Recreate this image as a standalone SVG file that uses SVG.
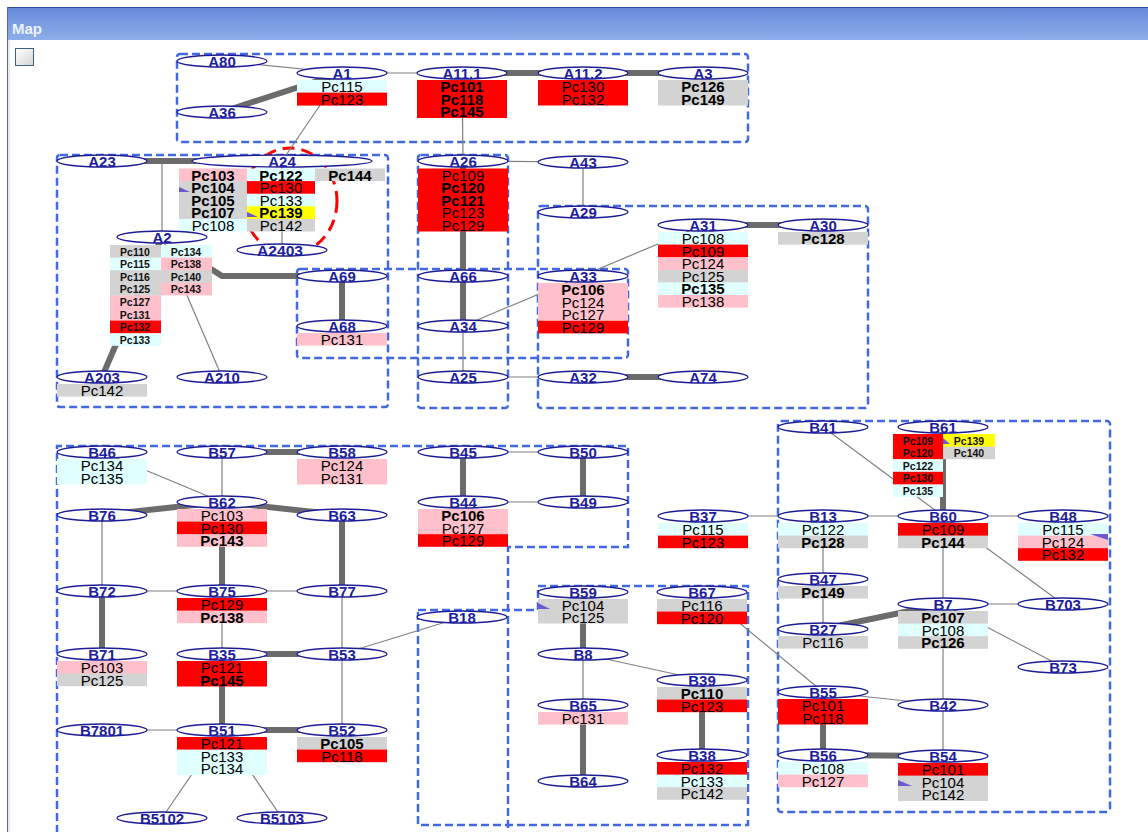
<svg xmlns="http://www.w3.org/2000/svg" width="1148" height="832" viewBox="0 0 1148 832">
<defs>
<linearGradient id="tb" x1="0" y1="0" x2="0" y2="1"><stop offset="0" stop-color="#6489d8"/><stop offset="1" stop-color="#8eaeea"/></linearGradient>
<linearGradient id="cb" x1="0" y1="0" x2="1" y2="1"><stop offset="0" stop-color="#ffffff"/><stop offset="1" stop-color="#d4d4d4"/></linearGradient>
</defs>
<style>
.n ellipse{fill:#fff;stroke:#1c1c96;stroke-width:1.3}
.l{font-family:"Liberation Sans",Arial,sans-serif;font-weight:bold;font-size:15px;fill:#1c1c9e;text-anchor:middle}
.p{font-family:"Liberation Sans",Arial,sans-serif;font-size:15px;fill:#000;text-anchor:middle}
.b{font-weight:bold}
.s{font-family:"Liberation Sans",Arial,sans-serif;font-size:10.5px;font-weight:bold;fill:#111;text-anchor:middle}
.red{fill:#ff0000}.pk{fill:#ffc0cb}.lc{fill:#e0ffff}.gr{fill:#d3d3d3}.ye{fill:#ffff00}
.mk{fill:#6a5acd}
.e{stroke:#808080;stroke-width:1.2;fill:none}
.t{stroke:#6b6b6b;stroke-width:6;fill:none}
.g{fill:none;stroke:#4169e1;stroke-width:2.5;stroke-dasharray:8 4}
</style>
<rect x="0" y="0" width="1148" height="832" fill="#fff"/>
<g id="window">
<rect x="7" y="7" width="1141" height="33" fill="url(#tb)"/>
<line x1="7" y1="7.5" x2="1148" y2="7.5" stroke="#2a4a9a"/>
<line x1="7.5" y1="7" x2="7.5" y2="832" stroke="#6a6a6a"/>
<line x1="9" y1="40" x2="9" y2="832" stroke="#c8d4ec"/>
<text x="12" y="34" font-family="Liberation Sans, Arial, sans-serif" font-weight="bold" font-size="15" fill="#eef2fc">Map</text>
<rect x="15.5" y="48.5" width="18" height="17" fill="url(#cb)" stroke="#3b6080"/>
</g>
<g id="groups">
<rect class="g" x="177" y="54" width="571" height="88" rx="3"/>
<rect class="g" x="57" y="155" width="331" height="252" rx="3"/>
<rect class="g" x="418" y="155" width="90" height="253" rx="3"/>
<rect class="g" x="538" y="206" width="330" height="202" rx="3"/>
<rect class="g" x="297" y="269" width="331" height="89" rx="3"/>
<path class="g" d="M508,840 V547 H628 V446 H57 V840"/>
<path class="g" d="M418,610 H538 V586 H748 V825 H418 Z"/>
<rect class="g" x="778" y="421" width="332" height="391" rx="3"/>
<ellipse cx="290" cy="201" rx="47" ry="53" fill="none" stroke="#ff0000" stroke-width="3" stroke-dasharray="12 7"/>
</g>
<g id="connectors">
<line class="e" x1="222" y1="61" x2="342" y2="73"/>
<line class="e" x1="342" y1="73" x2="462" y2="73"/>
<line class="e" x1="342" y1="73" x2="282" y2="161"/>
<line class="e" x1="462" y1="73" x2="463" y2="161"/>
<line class="e" x1="162" y1="161" x2="162" y2="237"/>
<line class="e" x1="282" y1="161" x2="282" y2="250"/>
<line class="e" x1="162" y1="237" x2="222" y2="377"/>
<line class="e" x1="463" y1="326" x2="463" y2="377"/>
<line class="e" x1="463" y1="161" x2="583" y2="162"/>
<line class="e" x1="583" y1="162" x2="583" y2="212"/>
<line class="e" x1="703" y1="225" x2="463" y2="326"/>
<line class="e" x1="463" y1="377" x2="583" y2="377"/>
<line class="t" x1="222" y1="112" x2="342" y2="73"/>
<line class="t" x1="462" y1="73" x2="583" y2="73"/>
<line class="t" x1="583" y1="73" x2="703" y2="73"/>
<line class="t" x1="102" y1="161" x2="282" y2="161"/>
<path class="t" d="M200,262 L222,276 L342,276"/>
<line class="t" x1="162" y1="237" x2="102" y2="377"/>
<line class="t" x1="342" y1="276" x2="342" y2="326"/>
<line class="t" x1="463" y1="161" x2="463" y2="276"/>
<line class="t" x1="463" y1="276" x2="463" y2="326"/>
<line class="t" x1="703" y1="225" x2="823" y2="225"/>
<line class="t" x1="583" y1="377" x2="703" y2="377"/>
<line class="e" x1="102" y1="452" x2="222" y2="502"/>
<line class="e" x1="222" y1="452" x2="222" y2="502"/>
<line class="e" x1="102" y1="515" x2="102" y2="591"/>
<line class="e" x1="102" y1="591" x2="222" y2="591"/>
<line class="e" x1="222" y1="591" x2="342" y2="591"/>
<line class="e" x1="222" y1="591" x2="222" y2="654"/>
<line class="e" x1="342" y1="591" x2="342" y2="654"/>
<line class="e" x1="342" y1="654" x2="342" y2="730"/>
<line class="e" x1="102" y1="730" x2="222" y2="730"/>
<line class="e" x1="222" y1="730" x2="162" y2="818"/>
<line class="e" x1="222" y1="730" x2="282" y2="818"/>
<line class="e" x1="342" y1="654" x2="462" y2="617"/>
<line class="e" x1="463" y1="452" x2="583" y2="452"/>
<line class="e" x1="463" y1="502" x2="583" y2="502"/>
<line class="e" x1="583" y1="654" x2="583" y2="705"/>
<line class="e" x1="583" y1="654" x2="702" y2="680"/>
<line class="e" x1="702" y1="592" x2="823" y2="692"/>
<line class="e" x1="823" y1="692" x2="943" y2="705"/>
<line class="e" x1="943" y1="705" x2="943" y2="756"/>
<line class="e" x1="943" y1="604" x2="943" y2="705"/>
<line class="e" x1="943" y1="604" x2="1063" y2="604"/>
<line class="e" x1="943" y1="604" x2="1063" y2="667"/>
<line class="e" x1="823" y1="579" x2="823" y2="629"/>
<line class="e" x1="823" y1="516" x2="823" y2="579"/>
<line class="e" x1="703" y1="516" x2="823" y2="516"/>
<line class="e" x1="823" y1="516" x2="943" y2="516"/>
<line class="e" x1="943" y1="516" x2="1063" y2="516"/>
<line class="e" x1="943" y1="516" x2="943" y2="604"/>
<line class="e" x1="943" y1="516" x2="1063" y2="604"/>
<line class="e" x1="823" y1="427" x2="943" y2="516"/>
<line class="t" x1="222" y1="452" x2="342" y2="452"/>
<line class="t" x1="222" y1="502" x2="102" y2="515"/>
<line class="t" x1="222" y1="502" x2="342" y2="515"/>
<line class="t" x1="222" y1="502" x2="222" y2="591"/>
<line class="t" x1="342" y1="515" x2="342" y2="591"/>
<line class="t" x1="102" y1="591" x2="102" y2="654"/>
<line class="t" x1="222" y1="654" x2="342" y2="654"/>
<line class="t" x1="222" y1="654" x2="222" y2="730"/>
<line class="t" x1="222" y1="730" x2="342" y2="730"/>
<line class="t" x1="463" y1="452" x2="463" y2="502"/>
<line class="t" x1="583" y1="452" x2="583" y2="502"/>
<line class="t" x1="583" y1="592" x2="583" y2="654"/>
<line class="t" x1="583" y1="705" x2="583" y2="781"/>
<line class="t" x1="702" y1="680" x2="702" y2="755"/>
<line class="t" x1="823" y1="629" x2="943" y2="604"/>
<line class="t" x1="823" y1="692" x2="823" y2="755"/>
<line class="t" x1="823" y1="755" x2="943" y2="756"/>
<line class="t" x1="943" y1="427" x2="943" y2="516"/>
</g>
<g id="A80" class="n"><ellipse cx="222" cy="61" rx="45" ry="6"/><text class="l" x="222" y="67">A80</text></g>
<g id="A36" class="n"><ellipse cx="222" cy="112" rx="45" ry="6"/><text class="l" x="222" y="118">A36</text></g>
<g id="A1" class="n"><ellipse cx="342" cy="73" rx="45" ry="6"/>
<rect class="lc" x="297" y="80" width="90" height="13"/><rect class="red" x="297" y="92.6" width="90" height="13"/>
<text class="p" x="342" y="92">Pc115</text><text class="p" x="342" y="104.6">Pc123</text>
<text class="l" x="342" y="79">A1</text></g>
<g id="A11.1" class="n"><ellipse cx="462" cy="73" rx="45" ry="6"/>
<rect class="red" x="417" y="80" width="90" height="38"/>
<text class="p b" x="462" y="92">Pc101</text><text class="p b" x="462" y="104.6">Pc118</text><text class="p b" x="462" y="117.2">Pc145</text>
<text class="l" x="462" y="79">A11.1</text></g>
<g id="A11.2" class="n"><ellipse cx="583" cy="73" rx="45" ry="6"/>
<rect class="red" x="538" y="80" width="90" height="25.5"/>
<text class="p" x="583" y="92">Pc130</text><text class="p" x="583" y="104.6">Pc132</text>
<text class="l" x="583" y="79">A11.2</text></g>
<g id="A3" class="n"><ellipse cx="703" cy="73" rx="45" ry="6"/>
<rect class="gr" x="658" y="80" width="90" height="25.5"/>
<text class="p b" x="703" y="92">Pc126</text><text class="p b" x="703" y="104.6">Pc149</text>
<text class="l" x="703" y="79">A3</text></g>
<g id="A23" class="n"><ellipse cx="102" cy="161" rx="45" ry="6"/><text class="l" x="102" y="167">A23</text></g>
<g id="A24" class="n"><ellipse cx="282" cy="161" rx="90" ry="6"/>
<rect class="pk" x="179" y="168.5" width="68" height="13"/><rect class="gr" x="179" y="181.1" width="68" height="38"/><rect class="lc" x="179" y="218.9" width="68" height="12.6"/>
<rect class="lc" x="247" y="168.5" width="68" height="13"/><rect class="red" x="247" y="181.1" width="68" height="13"/><rect class="lc" x="247" y="193.7" width="68" height="13"/><rect class="ye" x="247" y="206.3" width="68" height="13"/><rect class="gr" x="247" y="218.9" width="68" height="12.6"/>
<rect class="gr" x="315" y="168.5" width="70" height="12.6"/>
<text class="p b" x="213" y="180.5">Pc103</text><text class="p b" x="213" y="193.1">Pc104</text><text class="p b" x="213" y="205.7">Pc105</text><text class="p b" x="213" y="218.3">Pc107</text><text class="p" x="213" y="230.9">Pc108</text>
<text class="p b" x="281" y="180.5">Pc122</text><text class="p" x="281" y="193.1">Pc130</text><text class="p" x="281" y="205.7">Pc133</text><text class="p b" x="281" y="218.3">Pc139</text><text class="p" x="281" y="230.9">Pc142</text>
<text class="p b" x="350" y="180.5">Pc144</text>
<polygon class="mk" points="179,187 190,192 179,192"/><polygon class="mk" points="247,212 258,217 247,217"/>
<text class="l" x="282" y="167">A24</text></g>
<g id="A2403" class="n"><ellipse cx="282" cy="250" rx="45" ry="6"/><text class="l" x="280" y="256" textLength="46" lengthAdjust="spacingAndGlyphs">A2403</text></g>
<g id="A2" class="n"><ellipse cx="162" cy="237" rx="45" ry="6"/>
<rect class="gr" x="110" y="245" width="51" height="13"/><rect class="lc" x="110" y="257.6" width="51" height="13"/><rect class="gr" x="110" y="270.2" width="51" height="25.5"/><rect class="pk" x="110" y="295.4" width="51" height="25.5"/><rect class="red" x="110" y="320.6" width="51" height="13"/><rect class="lc" x="110" y="333.2" width="51" height="12.6"/>
<rect class="lc" x="161" y="245" width="51" height="13"/><rect class="pk" x="161" y="257.6" width="51" height="13"/><rect class="gr" x="161" y="270.2" width="51" height="13"/><rect class="pk" x="161" y="282.8" width="51" height="12.6"/>
<text class="s" x="135" y="255.5">Pc110</text><text class="s" x="135" y="268.1">Pc115</text><text class="s" x="135" y="280.7">Pc116</text><text class="s" x="135" y="293.3">Pc125</text><text class="s" x="135" y="305.9">Pc127</text><text class="s" x="135" y="318.5">Pc131</text><text class="s" x="135" y="331.1">Pc132</text><text class="s" x="135" y="343.7">Pc133</text>
<text class="s" x="186" y="255.5">Pc134</text><text class="s" x="186" y="268.1">Pc138</text><text class="s" x="186" y="280.7">Pc140</text><text class="s" x="186" y="293.3">Pc143</text>
<text class="l" x="162" y="243">A2</text></g>
<g id="A203" class="n"><ellipse cx="102" cy="377" rx="45" ry="6"/>
<rect class="gr" x="57" y="384" width="90" height="12.6"/><text class="p" x="102" y="396">Pc142</text>
<text class="l" x="102" y="383">A203</text></g>
<g id="A210" class="n"><ellipse cx="222" cy="377" rx="45" ry="6"/><text class="l" x="222" y="383">A210</text></g>
<g id="A26" class="n"><ellipse cx="463" cy="161" rx="45" ry="6"/>
<rect class="red" x="418" y="168.5" width="90" height="63"/>
<text class="p" x="463" y="180.5">Pc109</text><text class="p b" x="463" y="193.1">Pc120</text><text class="p b" x="463" y="205.7">Pc121</text><text class="p" x="463" y="218.3">Pc123</text><text class="p" x="463" y="230.9">Pc129</text>
<text class="l" x="463" y="167">A26</text></g>
<g id="A43" class="n"><ellipse cx="583" cy="162" rx="45" ry="6"/><text class="l" x="583" y="168">A43</text></g>
<g id="A29" class="n"><ellipse cx="583" cy="212" rx="45" ry="6"/><text class="l" x="583" y="218">A29</text></g>
<g id="A31" class="n"><ellipse cx="703" cy="225" rx="45" ry="6"/>
<rect class="lc" x="658" y="232" width="90" height="13"/><rect class="red" x="658" y="244.6" width="90" height="13"/><rect class="pk" x="658" y="257.2" width="90" height="13"/><rect class="gr" x="658" y="269.8" width="90" height="13"/><rect class="lc" x="658" y="282.4" width="90" height="13"/><rect class="pk" x="658" y="295" width="90" height="12.6"/>
<text class="p" x="703" y="244">Pc108</text><text class="p" x="703" y="256.6">Pc109</text><text class="p" x="703" y="269.2">Pc124</text><text class="p" x="703" y="281.8">Pc125</text><text class="p b" x="703" y="294.4">Pc135</text><text class="p" x="703" y="307">Pc138</text>
<text class="l" x="703" y="231">A31</text></g>
<g id="A30" class="n"><ellipse cx="823" cy="225" rx="45" ry="6"/>
<rect class="gr" x="778" y="232" width="90" height="12.6"/><text class="p b" x="823" y="244">Pc128</text>
<text class="l" x="823" y="231">A30</text></g>
<g id="A69" class="n"><ellipse cx="342" cy="276" rx="45" ry="6"/><text class="l" x="342" y="282">A69</text></g>
<g id="A68" class="n"><ellipse cx="342" cy="326" rx="45" ry="6"/>
<rect class="pk" x="297" y="333" width="90" height="12.6"/><text class="p" x="342" y="345">Pc131</text>
<text class="l" x="342" y="332">A68</text></g>
<g id="A66" class="n"><ellipse cx="463" cy="276" rx="45" ry="6"/><text class="l" x="463" y="282">A66</text></g>
<g id="A34" class="n"><ellipse cx="463" cy="326" rx="45" ry="6"/><text class="l" x="463" y="332">A34</text></g>
<g id="A25" class="n"><ellipse cx="463" cy="377" rx="45" ry="6"/><text class="l" x="463" y="383">A25</text></g>
<g id="A33" class="n"><ellipse cx="583" cy="276" rx="45" ry="6"/>
<rect class="pk" x="538" y="283" width="90" height="38"/><rect class="red" x="538" y="320.8" width="90" height="12.6"/>
<text class="p b" x="583" y="295">Pc106</text><text class="p" x="583" y="307.6">Pc124</text><text class="p" x="583" y="320.2">Pc127</text><text class="p" x="583" y="332.8">Pc129</text>
<text class="l" x="583" y="282">A33</text></g>
<g id="A32" class="n"><ellipse cx="583" cy="377" rx="45" ry="6"/><text class="l" x="583" y="383">A32</text></g>
<g id="A74" class="n"><ellipse cx="703" cy="377" rx="45" ry="6"/><text class="l" x="703" y="383">A74</text></g>
<g id="B46" class="n"><ellipse cx="102" cy="452" rx="45" ry="6"/>
<rect class="lc" x="57" y="459" width="90" height="25.5"/>
<text class="p" x="102" y="471">Pc134</text><text class="p" x="102" y="483.6">Pc135</text>
<text class="l" x="102" y="458">B46</text></g>
<g id="B57" class="n"><ellipse cx="222" cy="452" rx="45" ry="6"/><text class="l" x="222" y="458">B57</text></g>
<g id="B58" class="n"><ellipse cx="342" cy="452" rx="45" ry="6"/>
<rect class="pk" x="297" y="459" width="90" height="25.5"/>
<text class="p" x="342" y="471">Pc124</text><text class="p" x="342" y="483.6">Pc131</text>
<text class="l" x="342" y="458">B58</text></g>
<g id="B62" class="n"><ellipse cx="222" cy="502" rx="45" ry="6"/>
<rect class="pk" x="177" y="509" width="90" height="13"/><rect class="red" x="177" y="521.6" width="90" height="13"/><rect class="pk" x="177" y="534.2" width="90" height="12.6"/>
<text class="p" x="222" y="521">Pc103</text><text class="p" x="222" y="533.6">Pc130</text><text class="p b" x="222" y="546.2">Pc143</text>
<text class="l" x="222" y="508">B62</text></g>
<g id="B76" class="n"><ellipse cx="102" cy="515" rx="45" ry="6"/><text class="l" x="102" y="521">B76</text></g>
<g id="B63" class="n"><ellipse cx="342" cy="515" rx="45" ry="6"/><text class="l" x="342" y="521">B63</text></g>
<g id="B72" class="n"><ellipse cx="102" cy="591" rx="45" ry="6"/><text class="l" x="102" y="597">B72</text></g>
<g id="B75" class="n"><ellipse cx="222" cy="591" rx="45" ry="6"/>
<rect class="red" x="177" y="598" width="90" height="13"/><rect class="pk" x="177" y="610.6" width="90" height="12.6"/>
<text class="p" x="222" y="610">Pc129</text><text class="p b" x="222" y="622.6">Pc138</text>
<text class="l" x="222" y="597">B75</text></g>
<g id="B77" class="n"><ellipse cx="342" cy="591" rx="45" ry="6"/><text class="l" x="342" y="597">B77</text></g>
<g id="B71" class="n"><ellipse cx="102" cy="654" rx="45" ry="6"/>
<rect class="pk" x="57" y="661" width="90" height="13"/><rect class="gr" x="57" y="673.6" width="90" height="12.6"/>
<text class="p" x="102" y="673">Pc103</text><text class="p" x="102" y="685.6">Pc125</text>
<text class="l" x="102" y="660">B71</text></g>
<g id="B35" class="n"><ellipse cx="222" cy="654" rx="45" ry="6"/>
<rect class="red" x="177" y="661" width="90" height="25.5"/>
<text class="p" x="222" y="673">Pc121</text><text class="p b" x="222" y="685.6">Pc145</text>
<text class="l" x="222" y="660">B35</text></g>
<g id="B53" class="n"><ellipse cx="342" cy="654" rx="45" ry="6"/><text class="l" x="342" y="660">B53</text></g>
<g id="B7801" class="n"><ellipse cx="102" cy="730" rx="45" ry="6"/><text class="l" x="102" y="736">B7801</text></g>
<g id="B51" class="n"><ellipse cx="222" cy="730" rx="45" ry="6"/>
<rect class="red" x="177" y="737" width="90" height="13"/><rect class="lc" x="177" y="749.6" width="90" height="25.5"/>
<text class="p" x="222" y="749">Pc121</text><text class="p" x="222" y="761.6">Pc133</text><text class="p" x="222" y="774.2">Pc134</text>
<text class="l" x="222" y="736">B51</text></g>
<g id="B52" class="n"><ellipse cx="342" cy="730" rx="45" ry="6"/>
<rect class="gr" x="297" y="737" width="90" height="13"/><rect class="red" x="297" y="749.6" width="90" height="12.6"/>
<text class="p b" x="342" y="749">Pc105</text><text class="p" x="342" y="761.6">Pc118</text>
<text class="l" x="342" y="736">B52</text></g>
<g id="B5102" class="n"><ellipse cx="162" cy="818" rx="45" ry="6"/><text class="l" x="162" y="824">B5102</text></g>
<g id="B5103" class="n"><ellipse cx="282" cy="818" rx="45" ry="6"/><text class="l" x="282" y="824">B5103</text></g>
<g id="B45" class="n"><ellipse cx="463" cy="452" rx="45" ry="6"/><text class="l" x="463" y="458">B45</text></g>
<g id="B44" class="n"><ellipse cx="463" cy="502" rx="45" ry="6"/>
<rect class="pk" x="418" y="509" width="90" height="25.5"/><rect class="red" x="418" y="534.2" width="90" height="12.6"/>
<text class="p b" x="463" y="521">Pc106</text><text class="p" x="463" y="533.6">Pc127</text><text class="p" x="463" y="546.2">Pc129</text>
<text class="l" x="463" y="508">B44</text></g>
<g id="B50" class="n"><ellipse cx="583" cy="452" rx="45" ry="6"/><text class="l" x="583" y="458">B50</text></g>
<g id="B49" class="n"><ellipse cx="583" cy="502" rx="45" ry="6"/><text class="l" x="583" y="508">B49</text></g>
<g id="B18" class="n"><ellipse cx="462" cy="617" rx="45" ry="6"/><text class="l" x="462" y="623">B18</text></g>
<g id="B59" class="n"><ellipse cx="583" cy="592" rx="45" ry="6"/>
<rect class="gr" x="538" y="599" width="90" height="24.5"/>
<text class="p" x="583" y="610.5">Pc104</text><text class="p" x="583" y="622.5">Pc125</text>
<polygon class="mk" points="538,603 550,609 538,609"/>
<text class="l" x="583" y="598">B59</text></g>
<g id="B8" class="n"><ellipse cx="583" cy="654" rx="45" ry="6"/><text class="l" x="583" y="660">B8</text></g>
<g id="B65" class="n"><ellipse cx="583" cy="705" rx="45" ry="6"/>
<rect class="pk" x="538" y="712" width="90" height="12.6"/><text class="p" x="583" y="724">Pc131</text>
<text class="l" x="583" y="711">B65</text></g>
<g id="B64" class="n"><ellipse cx="583" cy="781" rx="45" ry="6"/><text class="l" x="583" y="787">B64</text></g>
<g id="B67" class="n"><ellipse cx="702" cy="592" rx="45" ry="6"/>
<rect class="gr" x="657" y="599" width="90" height="13"/><rect class="red" x="657" y="611.6" width="90" height="12.6"/>
<text class="p" x="702" y="611">Pc116</text><text class="p" x="702" y="623.6">Pc120</text>
<text class="l" x="702" y="598">B67</text></g>
<g id="B39" class="n"><ellipse cx="702" cy="680" rx="45" ry="6"/>
<rect class="gr" x="657" y="687" width="90" height="13"/><rect class="red" x="657" y="699.6" width="90" height="12.6"/>
<text class="p b" x="702" y="699">Pc110</text><text class="p" x="702" y="711.6">Pc123</text>
<text class="l" x="702" y="686">B39</text></g>
<g id="B38" class="n"><ellipse cx="702" cy="755" rx="45" ry="6"/>
<rect class="red" x="657" y="762" width="90" height="13"/><rect class="lc" x="657" y="774.6" width="90" height="13"/><rect class="gr" x="657" y="787.2" width="90" height="12.6"/>
<text class="p" x="702" y="774">Pc132</text><text class="p" x="702" y="786.6">Pc133</text><text class="p" x="702" y="799.2">Pc142</text>
<text class="l" x="702" y="761">B38</text></g>
<g id="B37" class="n"><ellipse cx="703" cy="516" rx="45" ry="6"/>
<rect class="lc" x="658" y="523" width="90" height="13"/><rect class="red" x="658" y="535.6" width="90" height="12.6"/>
<text class="p" x="703" y="535">Pc115</text><text class="p" x="703" y="547.6">Pc123</text>
<text class="l" x="703" y="522">B37</text></g>
<g id="B41" class="n"><ellipse cx="823" cy="427" rx="45" ry="6"/><text class="l" x="823" y="433">B41</text></g>
<g id="B61" class="n"><ellipse cx="943" cy="427" rx="45" ry="6"/>
<rect class="red" x="893" y="434" width="50" height="25.5"/><rect class="lc" x="893" y="459.2" width="50" height="13"/><rect class="red" x="893" y="471.8" width="50" height="13"/><rect class="lc" x="893" y="484.4" width="50" height="12.6"/>
<rect class="ye" x="943" y="434" width="52" height="13"/><rect class="gr" x="943" y="446.6" width="52" height="12.6"/>
<text class="s" x="918" y="444.5">Pc109</text><text class="s" x="918" y="457.1">Pc120</text><text class="s" x="918" y="469.7">Pc122</text><text class="s" x="918" y="482.3">Pc130</text><text class="s" x="918" y="494.9">Pc135</text>
<text class="s" x="969" y="444.5">Pc139</text><text class="s" x="969" y="457.1">Pc140</text>
<polygon class="mk" points="943,438 950,444 943,444"/>
<text class="l" x="943" y="433">B61</text></g>
<g id="B13" class="n"><ellipse cx="823" cy="516" rx="45" ry="6"/>
<rect class="lc" x="778" y="523" width="90" height="13"/><rect class="gr" x="778" y="535.6" width="90" height="12.6"/>
<text class="p" x="823" y="535">Pc122</text><text class="p b" x="823" y="547.6">Pc128</text>
<text class="l" x="823" y="522">B13</text></g>
<g id="B60" class="n"><ellipse cx="943" cy="516" rx="45" ry="6"/>
<rect class="red" x="898" y="523" width="90" height="13"/><rect class="gr" x="898" y="535.6" width="90" height="12.6"/>
<text class="p" x="943" y="535">Pc109</text><text class="p b" x="943" y="547.6">Pc144</text>
<text class="l" x="943" y="522">B60</text></g>
<g id="B48" class="n"><ellipse cx="1063" cy="516" rx="45" ry="6"/>
<rect class="lc" x="1018" y="523" width="90" height="13"/><rect class="pk" x="1018" y="535.6" width="90" height="13"/><rect class="red" x="1018" y="548.2" width="90" height="12.6"/>
<text class="p" x="1063" y="535">Pc115</text><text class="p" x="1063" y="547.6">Pc124</text><text class="p" x="1063" y="560.2">Pc132</text>
<polygon class="mk" points="1090,534 1108,534 1108,540"/>
<text class="l" x="1063" y="522">B48</text></g>
<g id="B47" class="n"><ellipse cx="823" cy="579" rx="45" ry="6"/>
<rect class="gr" x="778" y="586" width="90" height="12.6"/><text class="p b" x="823" y="598">Pc149</text>
<text class="l" x="823" y="585">B47</text></g>
<g id="B27" class="n"><ellipse cx="823" cy="629" rx="45" ry="6"/>
<rect class="gr" x="778" y="636" width="90" height="12.6"/><text class="p" x="823" y="648">Pc116</text>
<text class="l" x="823" y="635">B27</text></g>
<g id="B7" class="n"><ellipse cx="943" cy="604" rx="45" ry="6"/>
<rect class="gr" x="898" y="611" width="90" height="13"/><rect class="lc" x="898" y="623.6" width="90" height="13"/><rect class="gr" x="898" y="636.2" width="90" height="12.6"/>
<text class="p b" x="943" y="623">Pc107</text><text class="p" x="943" y="635.6">Pc108</text><text class="p b" x="943" y="648.2">Pc126</text>
<text class="l" x="943" y="610">B7</text></g>
<g id="B703" class="n"><ellipse cx="1063" cy="604" rx="45" ry="6"/><text class="l" x="1063" y="610">B703</text></g>
<g id="B73" class="n"><ellipse cx="1063" cy="667" rx="45" ry="6"/><text class="l" x="1063" y="673">B73</text></g>
<g id="B55" class="n"><ellipse cx="823" cy="692" rx="45" ry="6"/>
<rect class="red" x="778" y="699" width="90" height="25.5"/>
<text class="p" x="823" y="711">Pc101</text><text class="p" x="823" y="723.6">Pc118</text>
<text class="l" x="823" y="698">B55</text></g>
<g id="B42" class="n"><ellipse cx="943" cy="705" rx="45" ry="6"/><text class="l" x="943" y="711">B42</text></g>
<g id="B56" class="n"><ellipse cx="823" cy="755" rx="45" ry="6"/>
<rect class="lc" x="778" y="762" width="90" height="13"/><rect class="pk" x="778" y="774.6" width="90" height="12.6"/>
<text class="p" x="823" y="774">Pc108</text><text class="p" x="823" y="786.6">Pc127</text>
<text class="l" x="823" y="761">B56</text></g>
<g id="B54" class="n"><ellipse cx="943" cy="756" rx="45" ry="6"/>
<rect class="red" x="898" y="763" width="90" height="13"/><rect class="gr" x="898" y="775.6" width="90" height="25.5"/>
<text class="p" x="943" y="775">Pc101</text><text class="p" x="943" y="787.6">Pc104</text><text class="p" x="943" y="800.2">Pc142</text>
<polygon class="mk" points="898,780 912,786 898,786"/>
<text class="l" x="943" y="762">B54</text></g>
</svg>
